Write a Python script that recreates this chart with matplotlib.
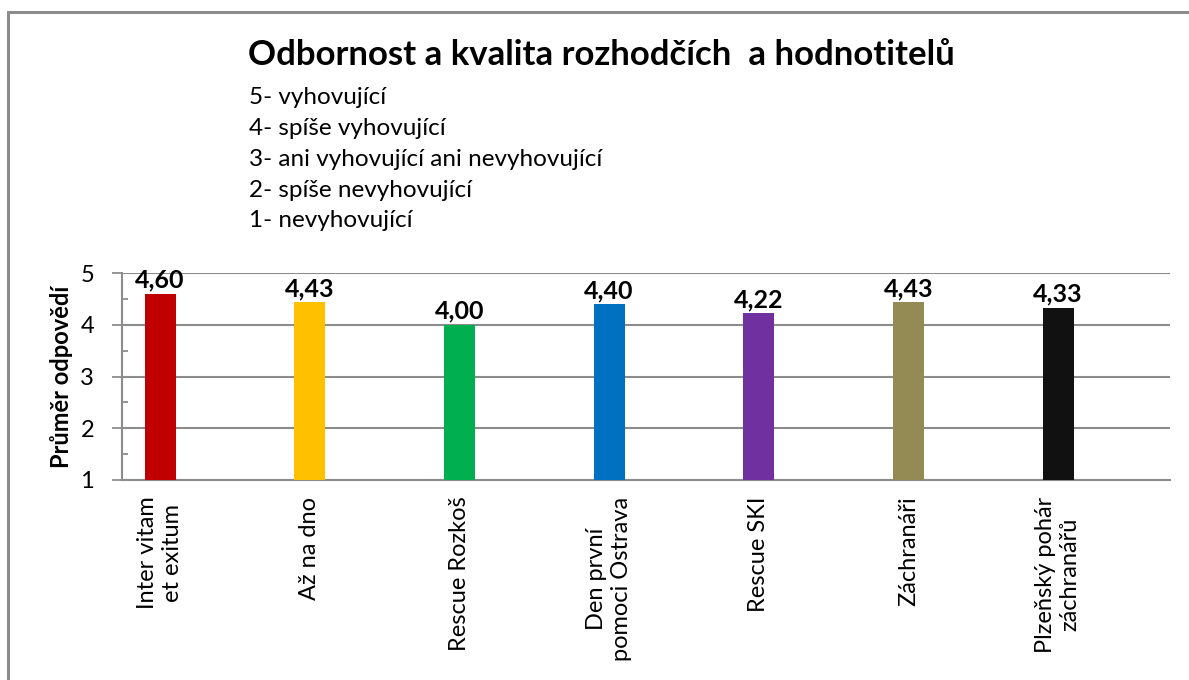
import matplotlib
matplotlib.use('Agg')
import matplotlib.pyplot as plt
from matplotlib.patches import Rectangle
from matplotlib.ticker import MultipleLocator

plt.rcParams['font.family'] = ['Lato', 'DejaVu Sans']

# data
teams = ['Inter vitam\net exitum', 'Až na dno', 'Rescue Rozkoš', 'Den první\npomoci Ostrava',
         'Rescue SKI', 'Záchranáři', 'Plzeňský pohár\nzáchranářů']
scores = [4.60, 4.43, 4.00, 4.40, 4.22, 4.43, 4.33]
colors = ['#C00000', '#FFC000', '#00B050', '#0070C0', '#7030A0', '#948A54', '#111111']
scale = ['5- vyhovující', '4- spíše vyhovující', '3- ani vyhovující ani nevyhovující',
         '2- spíše nevyhovující', '1- nevyhovující']
title = 'Odbornost a kvalita rozhodčích  a hodnotitelů'

W, H = 1189, 680
fig = plt.figure(figsize=(W / 100, H / 100), dpi=100)

# outer chart border (only left and top edges visible)
fig.patches.append(Rectangle((8 / W, -0.05), 1.2, 1 - 12 / H + 0.05, transform=fig.transFigure,
                             fill=False, edgecolor='#8c8c8c', linewidth=2.2))

ax = fig.add_axes([122 / W, 1 - 480 / H, (1170 - 122) / W, (480 - 273) / H])
x = list(range(len(teams)))
ax.bar(x, [s - 1 for s in scores], bottom=1, width=0.207, color=colors, zorder=3)

for xi, s in zip(x, scores):
    ax.text(xi, s + 0.04, f'{s:.2f}'.replace('.', ','), ha='center', va='bottom',
            fontsize=18, fontweight='bold', zorder=4)

ax.set_ylim(1, 5)
ax.set_xlim(-0.254, 6.748)
ax.yaxis.set_major_locator(MultipleLocator(1))
ax.yaxis.set_minor_locator(MultipleLocator(0.5))
ax.grid(axis='y', color='#8c8c8c', linewidth=1.5, zorder=0)
for side in ['top', 'right']:
    ax.spines[side].set_visible(False)
ax.spines['left'].set_color('#8c8c8c')
ax.spines['left'].set_linewidth(1.5)
ax.spines['bottom'].set_color('#8c8c8c')
ax.spines['bottom'].set_linewidth(1.5)
ax.tick_params(axis='y', which='major', direction='out', length=7, width=1.3, color='#8c8c8c',
               labelsize=17, pad=13)
ax.tick_params(axis='y', which='minor', direction='in', length=4.5, width=1.3, color='#8c8c8c')
ax.tick_params(axis='x', length=0, pad=12)
ax.set_xticks(x)
ax.set_xticklabels(teams, rotation=90, fontsize=17, va='top', ha='center', multialignment='center')
ax.set_ylabel('Průměr odpovědí', fontsize=17, fontweight='bold', labelpad=5)

fig.text(601 / W, 1 - 55 / H, title, ha='center', va='center', fontsize=25, fontweight='bold')
for i, line in enumerate(scale):
    fig.text(249 / W, 1 - (98 + i * 30.7) / H, line, ha='left', va='center', fontsize=17.5)

fig.savefig('out.png', dpi=100)
